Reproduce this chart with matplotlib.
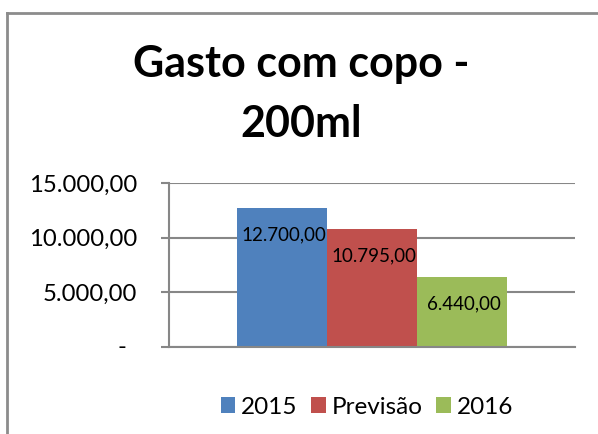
import numpy as np
import matplotlib.pyplot as plt
from matplotlib.lines import Line2D
from matplotlib.ticker import FuncFormatter

plt.rcParams['font.family'] = ['Lato', 'DejaVu Sans']

series = ["2015", "Previsão", "2016"]
valores = [12700.00, 10795.00, 6440.00]
cores = ["#4F81BD", "#C0504D", "#9BBB59"]
titulo = "Gasto com copo -\n200ml"

def br(v):
    s = f"{v:,.2f}"
    return s.replace(",", "X").replace(".", ",").replace("X", ".")

W, H = 598, 434
fig = plt.figure(figsize=(W / 100, H / 100), dpi=100)
ax = fig.add_axes([169 / W, 1 - 347 / H, (575 - 169) / W, (347 - 183) / H])

# moldura do gráfico (só esquerda e topo aparecem)
fig.add_artist(Line2D([7 / W, 7 / W], [0, 1 - 13 / H], transform=fig.transFigure,
                      color="#8c8c8c", lw=2))
fig.add_artist(Line2D([7 / W, 1], [1 - 13 / H, 1 - 13 / H], transform=fig.transFigure,
                      color="#8c8c8c", lw=2))

largura = 1 / 4.5
xs = (np.arange(len(series)) - 1) * largura
barras = ax.bar(xs, valores, width=largura, color=cores, label=series)
for b, v in zip(barras, valores):
    ax.annotate(br(v), (b.get_x() + b.get_width() / 2, v), xytext=(2, -27),
                textcoords="offset pixels", ha="center", va="center", fontsize=13.5)

ax.set_xlim(-0.5, 0.5)
ax.set_ylim(0, 15000)
ax.set_yticks([0, 5000, 10000, 15000])
ax.yaxis.set_major_formatter(FuncFormatter(lambda v, p: "" if v == 0 else br(v)))
ax.text(122 / W, 0, "-", transform=ax.get_yaxis_transform().__class__(fig.transFigure, ax.transData),
        ha="center", va="center", fontsize=17)
ax.tick_params(axis="y", length=6, color="#878787", width=1.5, labelsize=17.2, pad=17)
ax.set_xticks([])
ax.grid(axis="y", color="#878787", lw=1.5)
ax.set_axisbelow(True)
for s in ["top", "right"]:
    ax.spines[s].set_visible(False)
for s in ["left", "bottom"]:
    ax.spines[s].set_color("#878787")
    ax.spines[s].set_linewidth(1.5)

fig.text(301 / W, 1 - 94 / H, titulo, ha="center", va="center", fontsize=31,
         fontweight="bold", linespacing=1.6)

fig.legend(loc="center", bbox_to_anchor=(367 / W, 1 - 407 / H), ncol=3, frameon=False,
           fontsize=17.5, handlelength=0.6, handleheight=0.6, handletextpad=0.25,
           columnspacing=0.55)

fig.savefig("out.png", dpi=100)
